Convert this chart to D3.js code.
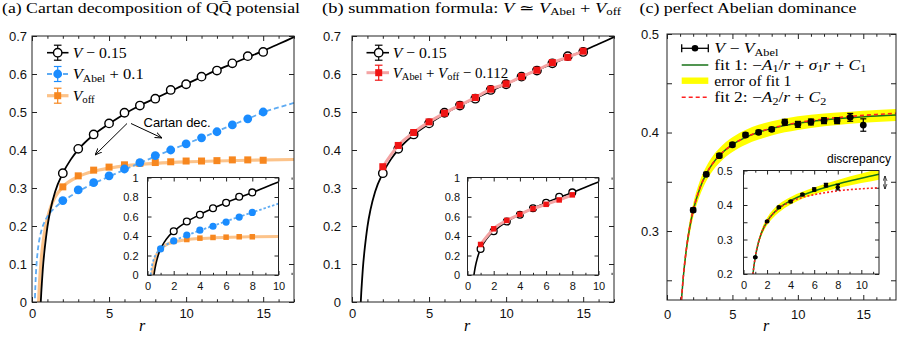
<!DOCTYPE html>
<html><head><meta charset="utf-8">
<script src="https://cdn.jsdelivr.net/npm/d3@7"></script>
<style>body{margin:0;background:#fff}svg{display:block}</style>
</head><body><svg id="c" width="899" height="337"></svg>
<script>
// ---------------- DATA ----------------
// Panel (a)/(b) main: r values of lattice data
const rMain = [2,3,4,5,6,7,8,9,10,11,12,13,14,15];
const vMinus = [0.339,0.403,0.441,0.470,0.498,0.517,0.535,0.558,0.573,0.593,0.609,0.628,0.647,0.658]; // V-0.15
const vAbel = [0.267,0.295,0.314,0.332,0.350,0.367,0.385,0.400,0.416,0.432,0.448,0.466,0.482,0.500]; // V_Abel+0.1
const vOff = [0.303,0.332,0.347,0.355,0.361,0.365,0.367,0.369,0.371,0.371,0.372,0.374,0.374,0.373];   // V_off
const vSum = [0.356,0.412,0.446,0.474,0.497,0.518,0.538,0.560,0.574,0.593,0.610,0.630,0.644,0.660];   // V_Abel+V_off-0.112
// fitted curves
const fitVr = [0.57,0.6,0.65,0.7,0.8,0.9,1.0,1.2,1.5,2,2.5,3,4,5,6,7,8,9,10,11,12,13,14,15,16,17];
const fitV  = [0,0.024,0.056,0.086,0.131,0.167,0.198,0.243,0.290,0.339,0.374,0.401,0.440,0.469,0.495,0.517,0.536,0.555,0.574,0.592,0.610,0.627,0.644,0.661,0.679,0.697];
const fitAr = [0.19,0.22,0.26,0.3,0.36,0.42,0.5,0.63,0.85,1.1,1.4,1.7,2,3,4,5,6,7,8,9,10,11,12,13,14,15,16,17];
const fitA  = [0.01,0.044,0.078,0.103,0.130,0.150,0.169,0.191,0.214,0.231,0.245,0.256,0.265,0.291,0.312,0.330,0.348,0.366,0.383,0.400,0.416,0.432,0.449,0.466,0.482,0.499,0.512,0.524];
const fitOr = [0.43,0.47,0.52,0.6,0.7,0.85,1,1.25,1.5,2,3,4,5,6,7,8,10,12,14,17];
const fitO  = [0,0.036,0.07,0.112,0.151,0.192,0.221,0.254,0.276,0.303,0.330,0.344,0.352,0.358,0.362,0.365,0.369,0.371,0.373,0.375];

// Insets (a)/(b)
const rIn = [1,2,3,4,5,6,7,8];
const inV    = [0.266,0.448,0.548,0.618,0.684,0.740,0.803,0.847];
const inAbel = [0.268,0.350,0.410,0.460,0.500,0.543,0.594,0.642];
const inOff  = [0.268,0.345,0.364,0.378,0.385,0.388,0.392,0.392];
const inSum  = [0.313,0.474,0.560,0.622,0.680,0.725,0.770,0.822];
const inFitVr = [0.49,0.55,0.62,0.7,0.8,1,1.3,1.6,2,3,4,5,6,7,8,9,10];
const inFitV  = [0,0.05,0.1,0.145,0.195,0.268,0.34,0.395,0.448,0.548,0.62,0.684,0.742,0.795,0.845,0.9,0.955];
const inFitAr = [0.24,0.27,0.3,0.35,0.4,0.5,0.6,0.8,1,1.5,2,3,4,5,6,7,8,9,10];
const inFitA  = [0,0.033,0.062,0.100,0.129,0.171,0.2005,0.2405,0.268,0.315,0.350,0.406,0.4565,0.504,0.551,0.597,0.642,0.687,0.732];
const inFitOr = [0.35,0.4,0.5,0.6,0.8,1,1.5,2,3,4,5,6,8,10];
const inFitO  = [0.005,0.055,0.126,0.174,0.233,0.268,0.315,0.339,0.362,0.374,0.381,0.386,0.392,0.396];

// Panel (c) main
const cV   = [0.3213,0.3576,0.3765,0.3876,0.3975,0.4002,0.4032,0.4104,0.4083,0.4107,0.4120,0.4120,0.4154,0.4076]; // V - V_Abel
const cErr = [0.002,0.002,0.002,0.002,0.002,0.002,0.002,0.003,0.003,0.003,0.003,0.003,0.004,0.0063];
const cFitR  = [1.1,1.25,1.5,1.75,2,2.5,3,3.5,4,5,6,7,8,10,12,14,16,17.5];
const cFit1  = [0.2295,0.2538,0.2834,0.3047,0.3207,0.3430,0.3580,0.3687,0.3766,0.3877,0.3951,0.4003,0.4042,0.4095,0.4128,0.4150,0.4168,0.4178];
const cFit1E = [0.004,0.005,0.006,0.007,0.007,0.0075,0.0075,0.0075,0.0075,0.0075,0.0075,0.0075,0.0072,0.007,0.0065,0.006,0.006,0.006];
const cFit2  = [0.2300,0.2543,0.2839,0.3051,0.3210,0.3432,0.3581,0.3687,0.3766,0.3877,0.3951,0.4004,0.4044,0.4100,0.4137,0.4163,0.4183,0.4195];
// Panel (c) inset
const cInV   = [0.2487,0.3525,0.3934,0.4100,0.4303,0.4449,0.4574,0.4516];
const cInErr = [0.002,0.002,0.003,0.003,0.003,0.005,0.005,0.008];
const cInFitR  = [0.8,0.9,1,1.25,1.5,2,2.5,3,4,5,6,7,8,9,10,11.5];
const cInFit1  = [0.1993,0.2268,0.249,0.2893,0.3167,0.352,0.3744,0.3903,0.4125,0.4282,0.4407,0.4513,0.4607,0.4694,0.4776,0.4890];
const cInFit1E = [0.004,0.0045,0.005,0.007,0.009,0.011,0.012,0.012,0.011,0.010,0.010,0.011,0.012,0.013,0.014,0.0155];
const cInFit2  = [0.1993,0.2268,0.249,0.2893,0.3167,0.352,0.3744,0.390,0.410,0.422,0.430,0.436,0.441,0.4445,0.447,0.450];

// tick values
const xMajMain = [0,5,10,15];
const xMinMain = [1,2,3,4,6,7,8,9,11,12,13,14,16,17];
const yTicksA = [0,0.1,0.2,0.3,0.4,0.5,0.6,0.7];
const yTicksC = [0.3,0.4,0.5];
const yMinC = [0.25,0.35,0.45];
const xTicksIn = [0,2,4,6,8,10];
const xMinIn = [1,3,5,7,9,11];
const yTicksIn = [0,0.2,0.4,0.6,0.8,1];
const yTicksInC = [0.2,0.3,0.4,0.5];
const yMinInC = [0.25,0.35,0.45];

// ---------------- DRAWING ----------------
const svg = d3.select("#c");
const SERIF = "'Liberation Serif','DejaVu Serif',serif";
const SANS = "'Liberation Sans',Arial,sans-serif";
const C = {blue:"#1a8cff", blueL:"#5eabf3", orange:"#f7871f", orangeL:"#fcc38a", red:"#f01414", pink:"#f4a4a4", green:"#177217", yellow:"#ffff00", redD:"#ff2020"};
const zip = (a,b) => a.map((v,i)=>[v,b[i]]);
const fmt = d3.format("~g");
let clipId = 0;

function makePanel(o){
  const x = d3.scaleLinear().domain(o.xd).range(o.xr);
  const y = d3.scaleLinear().domain(o.yd).range(o.yr);
  const g = svg.append("g");
  const id = "clip"+(clipId++);
  g.append("clipPath").attr("id",id).append("rect")
    .attr("x",o.xr[0]).attr("y",o.yr[1]).attr("width",o.xr[1]-o.xr[0]).attr("height",o.yr[0]-o.yr[1]);
  if(o.bg) g.append("rect").attr("x",o.xr[0]).attr("y",o.yr[1]).attr("width",o.xr[1]-o.xr[0]).attr("height",o.yr[0]-o.yr[1]).attr("fill","#fff");
  const ax = g.append("g");
  const style = s => { s.select(".domain").remove(); s.attr("font-family",SANS).attr("font-size",o.fs).selectAll("line").attr("stroke","#222").attr("stroke-width",1); s.selectAll("text").attr("fill","#111"); };
  ax.append("g").attr("transform",`translate(0,${o.yr[0]})`).call(d3.axisBottom(x).tickValues(o.xt).tickSize(-o.tl).tickPadding(o.xpad).tickFormat(fmt)).call(style);
  ax.append("g").attr("transform",`translate(0,${o.yr[1]})`).call(d3.axisTop(x).tickValues(o.xt).tickSize(-o.tl).tickFormat("")).call(style);
  if(o.xm){
    ax.append("g").attr("transform",`translate(0,${o.yr[0]})`).call(d3.axisBottom(x).tickValues(o.xm).tickSize(-o.tl*0.55).tickFormat("")).call(style);
    ax.append("g").attr("transform",`translate(0,${o.yr[1]})`).call(d3.axisTop(x).tickValues(o.xm).tickSize(-o.tl*0.55).tickFormat("")).call(style);
  }
  ax.append("g").attr("transform",`translate(${o.xr[0]},0)`).call(d3.axisLeft(y).tickValues(o.yt).tickSize(-o.tl).tickPadding(o.ypad).tickFormat(fmt)).call(style);
  ax.append("g").attr("transform",`translate(${o.xr[1]},0)`).call(d3.axisRight(y).tickValues(o.yt).tickSize(-o.tl).tickFormat("")).call(style);
  if(o.ym){
    ax.append("g").attr("transform",`translate(${o.xr[0]},0)`).call(d3.axisLeft(y).tickValues(o.ym).tickSize(-o.tl).tickFormat("")).call(style);
    ax.append("g").attr("transform",`translate(${o.xr[1]},0)`).call(d3.axisRight(y).tickValues(o.ym).tickSize(-o.tl).tickFormat("")).call(style);
  }
  const plot = g.append("g").attr("clip-path",`url(#${id})`);
  g.append("rect").attr("x",o.xr[0]).attr("y",o.yr[1]).attr("width",o.xr[1]-o.xr[0]).attr("height",o.yr[0]-o.yr[1])
    .attr("fill","none").attr("stroke","#222").attr("stroke-width",1);
  return {x,y,g,plot};
}
function curve(P, xs, ys, stroke, w, dash){
  const line = d3.line().x(d=>P.x(d[0])).y(d=>P.y(d[1])).curve(d3.curveMonotoneX);
  P.plot.append("path").attr("d",line(zip(xs,ys))).attr("fill","none").attr("stroke",stroke).attr("stroke-width",w)
    .attr("stroke-dasharray",dash||null).attr("stroke-linejoin","round");
}
function band(P, xs, ys, es, fill){
  const area = d3.area().x(d=>P.x(d[0])).y0(d=>P.y(d[1]-d[2])).y1(d=>P.y(d[1]+d[2])).curve(d3.curveMonotoneX);
  P.plot.append("path").attr("d",area(xs.map((v,i)=>[v,ys[i],es[i]]))).attr("fill",fill);
}
function circles(P, xs, ys, r, fill, stroke, sw){
  P.plot.append("g").selectAll("circle").data(zip(xs,ys)).join("circle")
    .attr("cx",d=>P.x(d[0])).attr("cy",d=>P.y(d[1])).attr("r",r).attr("fill",fill).attr("stroke",stroke||"none").attr("stroke-width",sw||0);
}
function squares(P, xs, ys, s, fill){
  P.plot.append("g").selectAll("rect").data(zip(xs,ys)).join("rect")
    .attr("x",d=>P.x(d[0])-s/2).attr("y",d=>P.y(d[1])-s/2).attr("width",s).attr("height",s).attr("fill",fill);
}
function errbars(P, xs, ys, es, cap, color, w){
  const gg = P.plot.append("g").attr("stroke",color).attr("stroke-width",w);
  xs.forEach((v,i)=>{
    const X=P.x(v), y1=P.y(ys[i]-es[i]), y2=P.y(ys[i]+es[i]);
    gg.append("line").attr("x1",X).attr("x2",X).attr("y1",y1).attr("y2",y2);
    gg.append("line").attr("x1",X-cap).attr("x2",X+cap).attr("y1",y1).attr("y2",y1);
    gg.append("line").attr("x1",X-cap).attr("x2",X+cap).attr("y1",y2).attr("y2",y2);
  });
}
// math text: parts = [text, flags] flags: i italic, s subscript
function mtext(x, y, parts, size, len){
  const t = svg.append("text").attr("x",x).attr("y",y).attr("font-family",SERIF).attr("font-size",size).attr("fill","#000");
  let sh=false;
  parts.forEach(p=>{
    const s = t.append("tspan").text(p[0]);
    const f = p[1]||"";
    if(f.includes("i")) s.attr("font-style","italic");
    if(f.includes("s")){ s.attr("font-size",size*0.7); if(!sh){ s.attr("dy",size*0.17); sh=true; } }
    else if(sh){ s.attr("dy",-size*0.17); sh=false; }
  });
  if(len) t.attr("textLength",len).attr("lengthAdjust","spacingAndGlyphs");
  return t;
}
function legErr(x, yc, color, hw, cap){
  const gg = svg.append("g").attr("stroke",color).attr("stroke-width",1.2);
  gg.append("line").attr("x1",x).attr("x2",x).attr("y1",yc-hw).attr("y2",yc+hw);
  gg.append("line").attr("x1",x-cap).attr("x2",x+cap).attr("y1",yc-hw).attr("y2",yc-hw);
  gg.append("line").attr("x1",x-cap).attr("x2",x+cap).attr("y1",yc+hw).attr("y2",yc+hw);
}
function legLine(x1,x2,yc,color,w,dash){
  svg.append("line").attr("x1",x1).attr("x2",x2).attr("y1",yc).attr("y2",yc).attr("stroke",color).attr("stroke-width",w).attr("stroke-dasharray",dash||null);
}

// defs for arrows
const defs = svg.append("defs");
defs.append("marker").attr("id","ah").attr("viewBox","0 0 10 10").attr("refX",10).attr("refY",5)
  .attr("markerWidth",7).attr("markerHeight",7).attr("orient","auto-start-reverse").attr("markerUnits","userSpaceOnUse")
  .append("path").attr("d","M0,1 L10,5 L0,9").attr("fill","none").attr("stroke","#000").attr("stroke-width",1.3);
defs.append("marker").attr("id","ah2").attr("viewBox","0 0 10 10").attr("refX",10).attr("refY",5)
  .attr("markerWidth",5).attr("markerHeight",5).attr("orient","auto-start-reverse").attr("markerUnits","userSpaceOnUse")
  .append("path").attr("d","M0,1 L10,5 L0,9").attr("fill","none").attr("stroke","#000").attr("stroke-width",1.3);

// ===== Panel (a) =====
const A = makePanel({xd:[0,17], xr:[32,294], yd:[0,0.7], yr:[302,36], xt:xMajMain, xm:xMinMain, yt:yTicksA, tl:5, fs:13, xpad:6.5, ypad:5});
curve(A, fitOr, fitO, C.orangeL, 3.2);
curve(A, fitAr, fitA, C.blueL, 1.8, "5,3");
curve(A, fitVr, fitV, "#000", 1.8);
squares(A, rMain, vOff, 7, C.orange);
circles(A, rMain, vAbel, 4.4, C.blue);
circles(A, rMain, vMinus, 4.2, "#fff", "#000", 1.4);
// annotation
svg.append("text").attr("x",143.5).attr("y",126.5).attr("font-family",SANS).attr("font-size",13).text("Cartan dec.");
svg.append("line").attr("x1",127).attr("y1",123.5).attr("x2",95).attr("y2",155).attr("stroke","#000").attr("stroke-width",1).attr("marker-end","url(#ah)");
svg.append("line").attr("x1",131).attr("y1",123.5).attr("x2",162).attr("y2",138).attr("stroke","#000").attr("stroke-width",1).attr("marker-end","url(#ah)");
// legend (a)
legLine(47,68.5,52.7,"#000",1.6); legErr(57.7,52.7,"#000",7.5,3.8);
svg.append("circle").attr("cx",57.7).attr("cy",52.7).attr("r",4.2).attr("fill","#fff").attr("stroke","#000").attr("stroke-width",1.4);
mtext(72.7,57.7,[["V","i"],[" − 0.15"]],15.5,54);
legLine(47,68.5,74,C.blueL,1.8,"5,3"); legErr(57.7,74,C.blue,7.5,3.8);
svg.append("circle").attr("cx",57.7).attr("cy",74).attr("r",4.4).attr("fill",C.blue);
mtext(72.7,79,[["V","i"],["Abel","s"],[" + 0.1"]],15.5,71);
legLine(47,68.5,95.7,C.orangeL,3.2); legErr(57.7,95.7,C.orange,7.5,3.8);
svg.append("rect").attr("x",57.7-3.5).attr("y",95.7-3.5).attr("width",7).attr("height",7).attr("fill",C.orange);
mtext(72.7,100.7,[["V","i"],["off","s"]],15.5,22);

// inset (a)
const Ai = makePanel({xd:[0,10], xr:[147.5,278.5], yd:[0,1], yr:[275,177.5], xt:xTicksIn, xm:xMinIn, yt:yTicksIn, tl:4, fs:11, xpad:7.5, ypad:9, bg:true});
curve(Ai, inFitOr, inFitO, C.orangeL, 3);
curve(Ai, inFitAr, inFitA, C.blueL, 1.8, "2.5,2");
curve(Ai, inFitVr, inFitV, "#000", 1.6);
squares(Ai, rIn, inOff, 5.5, C.orange);
circles(Ai, rIn, inAbel, 3.6, C.blue);
circles(Ai, rIn.slice(1), inV.slice(1), 3.4, "#fff", "#000", 1.3);

// ===== Panel (b) =====
const B = makePanel({xd:[0,17], xr:[352,614], yd:[0,0.7], yr:[302,36], xt:xMajMain, xm:xMinMain, yt:yTicksA, tl:5, fs:13, xpad:6.5, ypad:11});
curve(B, fitVr, fitV, "#000", 1.8);
circles(B, rMain, vMinus, 4.2, "#fff", "#000", 1.4);
curve(B, rMain, vSum, C.pink, 3);
squares(B, rMain, vSum, 7, C.red);
legLine(366.5,389,52.7,"#000",1.6); legErr(378.7,52.7,"#000",7.5,3.8);
svg.append("circle").attr("cx",378.7).attr("cy",52.7).attr("r",4.2).attr("fill","#fff").attr("stroke","#000").attr("stroke-width",1.4);
mtext(392.7,57.7,[["V","i"],[" − 0.15"]],15.5,54);
legLine(366.5,389,72.7,C.pink,3); legErr(378.7,72.7,C.red,7.5,3.8);
svg.append("rect").attr("x",378.7-3.5).attr("y",72.7-3.5).attr("width",7).attr("height",7).attr("fill",C.red);
mtext(392.7,77.7,[["V","i"],["Abel","s"],[" + "],["V","i"],["off","s"],[" − 0.112"]],15.5,115.5);
// inset (b)
const Bi = makePanel({xd:[0,10], xr:[467.5,598.5], yd:[0,1], yr:[275,177.5], xt:xTicksIn, xm:xMinIn, yt:yTicksIn, tl:4, fs:11, xpad:7.5, ypad:7.5, bg:true});
curve(Bi, inFitVr, inFitV, "#000", 1.6);
circles(Bi, rIn, inV, 3.4, "#fff", "#000", 1.3);
curve(Bi, rIn, inSum, C.pink, 3);
squares(Bi, rIn, inSum, 5.5, C.red);

// ===== Panel (c) =====
const Cp = makePanel({xd:[0,17.5], xr:[667,896], yd:[0.23,0.5], yr:[300,34], xt:xMajMain, xm:xMinMain, yt:yTicksC, ym:yMinC, tl:5, fs:13, xpad:10, ypad:8});
band(Cp, cFitR, cFit1, cFit1E, C.yellow);
curve(Cp, cFitR, cFit1, C.green, 1.5);
curve(Cp, cFitR, cFit2, C.redD, 1.6, "4,3");
errbars(Cp, rMain, cV, cErr, 3, "#000", 1.2);
circles(Cp, rMain, cV, 3.4, "#000");
// legend (c)
legLine(681.7,708.3,48.3,"#000",1.3);
svg.append("line").attr("x1",681.7).attr("x2",681.7).attr("y1",44.3).attr("y2",52.3).attr("stroke","#000").attr("stroke-width",1.3);
svg.append("line").attr("x1",708.3).attr("x2",708.3).attr("y1",44.3).attr("y2",52.3).attr("stroke","#000").attr("stroke-width",1.3);
svg.append("circle").attr("cx",695).attr("cy",48.3).attr("r",3.3).attr("fill","#000");
mtext(714.3,53.3,[["V","i"],[" − "],["V","i"],["Abel","s"]],14.5,64);
legLine(681.7,708.3,65,C.green,1.5);
mtext(714.3,69.5,[["fit 1:  −"],["A","i"],["1","s"],["/"],["r","i"],[" + "],["σ","i"],["1","s"],["r","i"],[" + "],["C","i"],["1","s"]],14.5,152);
svg.append("rect").attr("x",681.7).attr("y",80.7-3.2).attr("width",26.6).attr("height",6.4).attr("fill",C.yellow);
mtext(714.3,85.7,[["error of fit 1"]],14.5,77);
legLine(681.7,708.3,97.3,C.redD,1.6,"4,3");
mtext(714.3,102.3,[["fit 2:  −"],["A","i"],["2","s"],["/"],["r","i"],[" + "],["C","i"],["2","s"]],14.5,112);
// inset (c)
const Ci = makePanel({xd:[0,11.5], xr:[743.5,879], yd:[0.2,0.5], yr:[274,170.5], xt:xTicksIn, xm:xMinIn, yt:yTicksInC, ym:yMinInC, tl:4, fs:11, xpad:7.5, ypad:11, bg:true});
band(Ci, cInFitR, cInFit1, cInFit1E, C.yellow);
curve(Ci, cInFitR, cInFit1, C.green, 1.5);
curve(Ci, cInFitR, cInFit2, C.redD, 1.6, "2,2");
errbars(Ci, rIn, cInV, cInErr, 2.2, "#000", 1.2);
circles(Ci, rIn, cInV, 2.2, "#000");
svg.append("text").attr("x",891).attr("y",163).attr("text-anchor","end").attr("font-family",SANS).attr("font-size",12).text("discrepancy");
svg.append("line").attr("x1",885).attr("x2",885).attr("y1",176).attr("y2",189).attr("stroke","#000").attr("stroke-width",0.9)
  .attr("marker-start","url(#ah2)").attr("marker-end","url(#ah2)");

// ===== titles and axis labels =====
mtext(2,13,[["(a) Cartan decomposition of Q"],["Q\u0304"],[" potensial"]],14.5,298);
mtext(322,13,[["(b) summation formula:  "],["V","i"],[" ≃ "],["V","i"],["Abel","s"],[" + "],["V","i"],["off","s"]],14.5,299);
mtext(639.5,13,[["(c) perfect Abelian dominance"]],14.5,217);
[[142,331],[467,331],[766,331]].forEach(p=> mtext(p[0],p[1],[["r","i"]],16).attr("text-anchor","middle"));
</script></body></html>
